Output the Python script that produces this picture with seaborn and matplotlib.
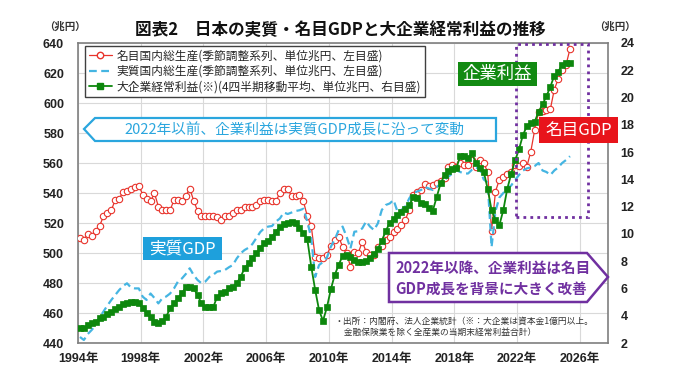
import numpy as np
import pandas as pd
import matplotlib
matplotlib.use("Agg")
import matplotlib.pyplot as plt
import seaborn as sns
from matplotlib.patches import Polygon, Rectangle
from matplotlib.lines import Line2D

# quarterly data, 1994Q1 - 2025Q2 (兆円)
nominal_gdp = [
    510, 509, 513, 511.5,   515, 518, 524.5, 527,   528.5, 535.5, 536, 541,
    541.5, 543, 544, 545,   539, 536, 534.5, 540,   531, 529, 529, 528.5,
    535.5, 535.5, 535, 538,   543, 535, 528, 524.5,   525, 524.5, 524.5, 524,
    522, 524.5, 525, 527,   529, 528.5, 530.5, 530.5,   530.5, 532, 535, 535.5,
    535.5, 535, 534.5, 540,   542.5, 542.5, 538, 538,   539, 534.5, 524.5, 518,
    497.5, 496.5, 496.5, 498.5,   505, 508.5, 511, 504,   500, 491, 501, 500,
    507.5, 501, 498.5, 499,   504, 505, 508.5, 511,   514, 516, 519, 522,
    529, 538.5, 540.5, 542,   546, 544.7, 545.3, 547,   548, 550, 557.5, 558.5,
    557.5, 560, 558.5, 558.5,   562, 557.5, 562, 560,   554, 515, 541, 549,
    551, 553, 554, 558.5,   558, 560, 557.6, 567.6,   582, 594, 595, 595.5,
    596, 609, 616, 622,   625.5, 636,
]

real_gdp = [
    444, 442, 446, 448.7,   452, 457, 461, 465,   468.7, 472, 475.3, 478,
    479.8, 477, 476.4, 476.4,   470.9, 468.7, 473, 470,   466.4, 469.8, 471, 473,
    476.4, 481, 483, 486,   489.8, 485.3, 482, 479.8,   481, 484, 485.5, 487.6,
    488, 488.7, 490.5, 492,   496.4, 499.8, 502, 503.5,   506, 510, 514, 516.5,
    517.6, 518, 521, 523,   527, 526, 527, 528,   528.5, 529.5, 521, 510,
    484, 492, 494, 497,   504.2, 509, 515.3, 517.6,   511, 503, 514.2, 514.5,
    516.4, 521, 517.6, 515.3,   519.8, 528.7, 532, 533,   535.3, 527.6, 528.7, 531,
    536.4, 540, 541, 542,   544, 543, 542, 544,   546, 548.7, 551, 553,
    555.3, 554, 553, 553,   555.5, 557, 556, 549,   547, 504, 528, 537,
    540, 543, 545, 548.7,   552, 555, 556.4, 557,   558, 560, 555, 554,
    552, 555, 557, 560,   562, 564.5,
]

profit = [
    3.1, 3.08, 3.3, 3.45,   3.56, 3.8, 3.93, 4.1,   4.3, 4.47, 4.66, 4.86,
    4.95, 5.03, 5.03, 4.96,   4.54, 4.2, 3.9, 3.57,   3.5, 3.6, 3.93, 4.54,
    4.91, 5.3, 5.64, 6.08,   6.08, 6.0, 5.52, 4.91,   4.67, 4.62, 4.62, 5.4,
    5.64, 5.77, 6.0, 6.13,   6.38, 6.86, 7.48, 7.84,   8.2, 8.58, 8.94, 9.31,
    9.5, 9.8, 10.17, 10.53,   10.7, 10.83, 10.9, 10.78,   10.4, 10.1, 9.6, 7.6,
    5.9, 4.4, 3.63, 4.62,   5.94, 7.0, 7.72, 8.4,   8.46, 8.33, 8.09, 7.97,
    7.97, 8.04, 8.2, 8.5,   8.9, 9.5, 10.2, 10.8,   11.1, 11.4, 11.6, 11.8,
    12.1, 12.7, 12.6, 12.3,   12.2, 11.9, 11.7, 12.7,   13.7, 14.3, 14.6, 14.74,
    14.8, 15.7, 15.7, 15.6,   15.9, 15.17, 14.8, 14.57,   13.3, 11.75, 11.0, 10.65,
    11.75, 13.3, 14.4, 15.4,   16.2, 17.25, 17.9, 18.15,   18.23, 18.96, 19.5, 20.1,
    20.8, 21.6, 21.9, 22.38,   22.5, 22.55,
]

left_ticks = list(range(440, 641, 20))
right_ticks = list(range(2, 25, 2))
year_ticks = list(range(1994, 2027, 4))

legend_labels = [
    "名目国内総生産(季節調整系列、単位兆円、左目盛)",
    "実質国内総生産(季節調整系列、単位兆円、左目盛)",
    "大企業経常利益(※)(4四半期移動平均、単位兆円、右目盛)",
]

quarters = pd.period_range("1994Q1", periods=len(nominal_gdp), freq="Q")
df = pd.DataFrame({
    "t": quarters.year + (quarters.quarter - 0.5) / 4,
    "nominal": nominal_gdp,
    "real": real_gdp,
    "profit": profit,
})

RED = "#e8332b"
BLUE = "#45b5e2"
GREEN = "#0d870d"
CYAN = "#2aa6de"
PURPLE = "#7030a0"

sns.set_theme(style="whitegrid")
plt.rcParams["font.family"] = ["Noto Sans CJK JP", "DejaVu Sans"]
NUM_FONT = ["Liberation Sans", "Noto Sans CJK JP"]

W, H = 680, 382
fig = plt.figure(figsize=(W / 100, H / 100), dpi=100)
fig.patch.set_facecolor("white")


def fp(x, y):
    # pixel position -> figure fraction
    return (x / W, 1 - y / H)


ax = fig.add_axes([78 / W, 1 - 343 / H, 530 / W, 300 / H])
ax2 = ax.twinx()

sns.lineplot(data=df, x="t", y="nominal", ax=ax, color=RED, linewidth=0.9,
             marker="o", markersize=4.6, markerfacecolor="white",
             markeredgecolor=RED, markeredgewidth=0.8,
             errorbar=None, legend=False, zorder=3)
sns.lineplot(data=df, x="t", y="real", ax=ax, color=BLUE, linewidth=1.6,
             linestyle=(0, (3.5, 2)), errorbar=None, legend=False, zorder=4)
sns.lineplot(data=df, x="t", y="profit", ax=ax2, color=GREEN, linewidth=1.3,
             marker="s", markersize=4.6, markerfacecolor=GREEN,
             markeredgecolor=GREEN, markeredgewidth=0.5,
             errorbar=None, legend=False)

ax.set_xlim(1994, 2027.8)
ax.set_ylim(440, 640)
ax2.set_ylim(2, 24)
ax.set_xticks(year_ticks)
ax.set_xticklabels([f"{y}年" for y in year_ticks])
ax.set_yticks(left_ticks)
ax2.set_yticks(right_ticks)
ax.set_xlabel("")
ax.set_ylabel("")
ax2.set_ylabel("")

ax.grid(True, color="#d9d9d9", linewidth=0.8)
ax2.grid(False)
for s in ax.spines.values():
    s.set_color("#7f7f7f")
    s.set_linewidth(1.2)
for s in ax2.spines.values():
    s.set_visible(False)

ax.tick_params(axis="y", length=0, pad=10)
ax.tick_params(axis="x", length=0, pad=7)
ax2.tick_params(axis="y", length=0, pad=9)
for lab in ax.get_xticklabels() + ax.get_yticklabels() + ax2.get_yticklabels():
    lab.set_fontfamily(NUM_FONT)
    lab.set_fontweight("bold")
    lab.set_fontsize(9)
    lab.set_color("#222222")

# legend
handles = [
    Line2D([], [], color=RED, linewidth=0.9, marker="o", markersize=4.6,
           markerfacecolor="white", markeredgecolor=RED),
    Line2D([], [], color=BLUE, linewidth=1.6, linestyle=(0, (3.5, 2))),
    Line2D([], [], color=GREEN, linewidth=1.3, marker="s", markersize=4.6,
           markerfacecolor=GREEN, markeredgecolor=GREEN),
]
leg = ax2.legend(handles, legend_labels, loc="upper left",
                 bbox_to_anchor=fp(85, 46), bbox_transform=fig.transFigure,
                 frameon=True, fancybox=False, framealpha=1, fontsize=8.45,
                 handlelength=2.0, handletextpad=0.4, labelspacing=0.2,
                 borderpad=0.3, borderaxespad=0)
leg.get_frame().set_edgecolor("#404040")
leg.get_frame().set_linewidth(1.0)

# title and units
fig.text(*fp(340, 30), "図表2　日本の実質・名目GDPと大企業経常利益の推移",
         ha="center", va="center", fontsize=12, fontweight="bold", color="#111111")
fig.text(*fp(65, 27), "（兆円）", ha="center", va="center", fontsize=7.5,
         fontweight="bold", color="#333333")
fig.text(*fp(615, 27), "（兆円）", ha="center", va="center", fontsize=7.5,
         fontweight="bold", color="#333333")

# cyan left-pointing note
fig.add_artist(Polygon([fp(84, 129), fp(95, 118), fp(496, 118), fp(496, 141), fp(95, 141)],
                       closed=True, transform=fig.transFigure, facecolor="white",
                       edgecolor=CYAN, linewidth=1.6, zorder=5))
fig.text(*fp(294, 130), "2022年以前、企業利益は実質GDP成長に沿って変動",
         ha="center", va="center", fontsize=10.5, color=CYAN, zorder=6)

# purple right-pointing note
fig.add_artist(Polygon([fp(389, 253), fp(587, 253), fp(608, 277), fp(587, 302), fp(389, 302)],
                       closed=True, transform=fig.transFigure, facecolor="white",
                       edgecolor=PURPLE, linewidth=1.8, zorder=5))
fig.text(*fp(395, 278), "2022年以降、企業利益は名目\nGDP成長を背景に大きく改善",
         ha="left", va="center", fontsize=10.5, color=PURPLE, linespacing=1.35,
         fontweight="bold", zorder=6)

# dotted highlight
fig.add_artist(Rectangle(fp(516, 217), 72 / W, 173 / H, transform=fig.transFigure,
                         fill=False, edgecolor=PURPLE, linewidth=2, linestyle=(0, (1, 1.5)),
                         zorder=5))

# filled labels
for (x0, y0, x1, y1), txt, col, fs in [
    ((143, 237, 222, 260), "実質GDP", "#1ea0dc", 12),
    ((458, 62, 537, 86), "企業利益", "#128a12", 12.5),
    ((539, 117, 618, 143), "名目GDP", "#e8141b", 12),
]:
    fig.add_artist(Rectangle(fp(x0, y1), (x1 - x0) / W, (y1 - y0) / H,
                             transform=fig.transFigure, facecolor=col,
                             edgecolor="none", zorder=7))
    fig.text(*fp((x0 + x1) / 2, (y0 + y1) / 2), txt, ha="center", va="center",
             fontsize=fs, color="white", zorder=8)

# source
fig.text(*fp(335, 317), "・出所：内閣府、法人企業統計（※：大企業は資本金1億円以上。\n　金融保険業を除く全産業の当期末経常利益合計）",
         ha="left", va="top", fontsize=6.3, color="#333333", linespacing=1.3, zorder=6)

fig.savefig("out.png", dpi=100)
